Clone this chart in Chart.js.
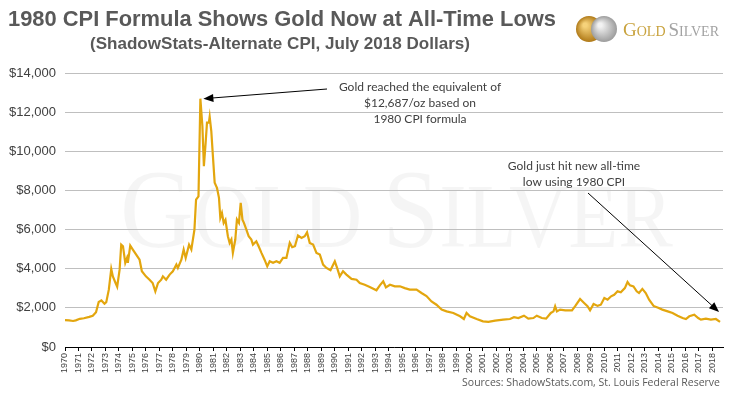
<!DOCTYPE html>
<html>
<head>
<meta charset="utf-8">
<style>
  html, body { margin: 0; padding: 0; background: #fff; }
  #wrap { width: 737px; height: 396px; }
</style>
</head>
<body>
<div id="wrap"><canvas id="cpiChart" width="737" height="396"></canvas></div>
<script src="https://cdn.jsdelivr.net/npm/chart.js"></script>
<script>
  // gold price in July 2018 dollars, ShadowStats 1980-CPI basis
  const years = [
    1970.0, 1970.3, 1970.6, 1970.8, 1971.1, 1971.4, 1971.8, 1972.06, 1972.3, 1972.5,
    1972.7, 1972.93, 1973.06, 1973.25, 1973.43, 1973.55, 1973.75, 1973.87, 1974.05, 1974.17,
    1974.3, 1974.47, 1974.6, 1974.66, 1974.84, 1975.03, 1975.28, 1975.53, 1975.7, 1976.0,
    1976.27, 1976.5, 1976.7, 1976.9, 1977.14, 1977.26, 1977.5, 1977.76, 1978.0, 1978.26,
    1978.37, 1978.63, 1978.8, 1978.95, 1979.2, 1979.37, 1979.6, 1979.72, 1979.9, 1980.04,
    1980.19, 1980.3, 1980.43, 1980.53, 1980.67, 1980.73, 1980.85, 1980.97, 1981.1, 1981.27,
    1981.42, 1981.52, 1981.64, 1981.77, 1981.9, 1982.08, 1982.21, 1982.34, 1982.45, 1982.63,
    1982.75, 1982.9, 1983.03, 1983.16, 1983.27, 1983.45, 1983.62, 1983.82, 1983.94, 1984.19,
    1984.36, 1984.57, 1984.8, 1985.0, 1985.18, 1985.43, 1985.68, 1985.92, 1986.17, 1986.42,
    1986.67, 1986.85, 1987.05, 1987.28, 1987.54, 1987.78, 1987.95, 1988.15, 1988.4, 1988.65,
    1988.9, 1989.14, 1989.39, 1989.69, 1990.01, 1990.18, 1990.38, 1990.62, 1990.87, 1991.25,
    1991.62, 1991.86, 1992.23, 1992.6, 1993.1, 1993.35, 1993.6, 1993.8, 1994.1, 1994.46,
    1994.84, 1995.2, 1995.57, 1996.07, 1996.44, 1996.81, 1997.18, 1997.55, 1997.93, 1998.3,
    1998.8, 1999.3, 1999.58, 1999.78, 2000.03, 2000.53, 2001.0, 2001.4, 2001.9, 2002.5,
    2003.0, 2003.3, 2003.62, 2004.04, 2004.36, 2004.74, 2004.99, 2005.36, 2005.68, 2006.03,
    2006.23, 2006.35, 2006.48, 2006.72, 2007.1, 2007.6, 2007.85, 2008.2, 2008.5, 2008.75,
    2008.94, 2009.2, 2009.5, 2009.74, 2010.0, 2010.24, 2010.5, 2010.73, 2010.98, 2011.22,
    2011.52, 2011.72, 2011.9, 2012.16, 2012.4, 2012.57, 2012.82, 2013.07, 2013.32, 2013.65,
    2013.99, 2014.3, 2014.7, 2015.06, 2015.43, 2015.8, 2016.05, 2016.3, 2016.67, 2016.96,
    2017.16, 2017.53, 2017.9, 2018.27, 2018.58
  ];
  const prices = [
    1370, 1360, 1330, 1360, 1440, 1470, 1540, 1600, 1780, 2300,
    2380, 2210, 2290, 2930, 3990, 3600, 3270, 3080, 3950, 5230,
    5150, 4300, 4550, 4300, 5180, 4980, 4720, 4460, 3870, 3610,
    3440, 3270, 2840, 3270, 3440, 3610, 3440, 3700, 3870, 4210,
    4040, 4460, 4980, 4550, 5230, 4980, 6000, 7530, 7700, 12687,
    11280, 9240, 10430, 11460, 11460, 11760, 11030, 9750, 8390, 8130,
    7620, 6600, 6850, 6340, 6500, 5660, 5320, 5490, 4810, 5490,
    6510, 6340, 7365, 6510, 6340, 6000, 5660, 5490, 5230, 5400,
    5150, 4810, 4460, 4120, 4380, 4300, 4380, 4300, 4550, 4550,
    5320, 5100, 5150, 5700, 5570, 5660, 5860, 5320, 5230, 4810,
    4720, 4210, 4040, 3920, 4380, 4040, 3610, 3870, 3700, 3480,
    3440, 3270, 3180, 3070, 2900, 3150, 3360, 3050, 3180, 3100,
    3100, 3010, 2930, 2930, 2760, 2600, 2330, 2160, 1910, 1820,
    1740, 1570, 1430, 1740, 1570, 1430, 1310, 1280, 1350, 1400,
    1430, 1520, 1480, 1600, 1450, 1480, 1600, 1480, 1450, 1740,
    1820, 2080, 1820, 1910, 1870, 1870, 2100, 2450, 2250, 2080,
    1870, 2200, 2100, 2160, 2500, 2420, 2590, 2670, 2845, 2800,
    3010, 3320, 3150, 3100, 2845, 2760, 2970, 2760, 2420, 2100,
    2000, 1910, 1820, 1740, 1600, 1480, 1430, 1570, 1650, 1480,
    1400, 1450, 1400, 1430, 1280
  ];
  const yMax = 14000;
  const yStep = 2000;

  const titleText = '1980 CPI Formula Shows Gold Now at All-Time Lows';
  const subtitleText = '(ShadowStats-Alternate CPI, July 2018 Dollars)';
  const peakNote = ['Gold reached the equivalent of', '$12,687/oz based on', '1980 CPI formula'];
  const lowNote = ['Gold just hit new all-time', 'low using 1980 CPI'];
  const sourceText = 'Sources: ShadowStats.com, St. Louis Federal Reserve';

  const sans = '"Liberation Sans", Arial, sans-serif';
  const noteFont = '12px Lato, "Open Sans", sans-serif';

  // draws text squeezed to a given width (the original uses a narrow face)
  function fitText(ctx, text, left, y, width, font) {
    ctx.save();
    ctx.font = font;
    ctx.textAlign = 'left';
    const w = ctx.measureText(text).width;
    ctx.translate(left, y);
    ctx.scale(width / w, 1);
    ctx.fillText(text, 0, 0);
    ctx.restore();
  }

  function arrow(ctx, x1, y1, x2, y2) {
    const a = Math.atan2(y2 - y1, x2 - x1);
    ctx.save();
    ctx.strokeStyle = '#000';
    ctx.fillStyle = '#000';
    ctx.lineWidth = 1;
    ctx.beginPath();
    ctx.moveTo(x1, y1);
    ctx.lineTo(x2 - 8 * Math.cos(a), y2 - 8 * Math.sin(a));
    ctx.stroke();
    ctx.beginPath();
    ctx.moveTo(x2, y2);
    ctx.lineTo(x2 - 10 * Math.cos(a) + 4 * Math.sin(a), y2 - 10 * Math.sin(a) - 4 * Math.cos(a));
    ctx.lineTo(x2 - 10 * Math.cos(a) - 4 * Math.sin(a), y2 - 10 * Math.sin(a) + 4 * Math.cos(a));
    ctx.closePath();
    ctx.fill();
    ctx.restore();
  }

  function smallCaps(ctx, parts, x, y, color) {
    let cx = x;
    ctx.fillStyle = color;
    parts.forEach(([t, size]) => {
      ctx.font = size + 'px "Liberation Serif", "DejaVu Serif", serif';
      ctx.fillText(t, cx, y);
      cx += ctx.measureText(t).width;
    });
    return cx;
  }

  const decor = {
    id: 'decor',
    beforeDraw(chart) {
      const ctx = chart.ctx;
      ctx.save();
      ctx.fillStyle = '#fff';
      ctx.fillRect(0, 0, chart.width, chart.height);
      // faint watermark
      ctx.textBaseline = 'alphabetic';
      ctx.textAlign = 'left';
      const parts = [['G', 112], ['OLD', 90], [' ', 90], ['S', 112], ['ILVER', 90]];
      let w = 0;
      parts.forEach(([t, s]) => { ctx.font = s + 'px "Liberation Serif", serif'; w += ctx.measureText(t).width; });
      ctx.translate(120, 247);
      ctx.scale(553 / w, 1);
      smallCaps(ctx, parts, 0, 0, 'rgba(0,0,0,0.04)');
      ctx.restore();
    },
    afterDraw(chart) {
      const ctx = chart.ctx;
      const xs = chart.scales.x, ys = chart.scales.y;
      ctx.save();
      // titles
      ctx.fillStyle = '#595959';
      ctx.textBaseline = 'alphabetic';
      fitText(ctx, titleText, 8, 26, 548, 'bold 22px ' + sans);
      fitText(ctx, subtitleText, 90, 49, 380, 'bold 17px ' + sans);

      // logo coins
      const coin = (cx, cy, r, c1, c2) => {
        const g = ctx.createRadialGradient(cx - 4, cy - 4, 2, cx, cy, r);
        g.addColorStop(0, c1);
        g.addColorStop(1, c2);
        ctx.fillStyle = g;
        ctx.beginPath();
        ctx.arc(cx, cy, r, 0, Math.PI * 2);
        ctx.fill();
      };
      coin(589, 29, 13, '#f6d27a', '#b07a18');
      coin(604, 29, 13, '#f2f2f2', '#9c9c9c');
      ctx.textAlign = 'left';
      ctx.textBaseline = 'alphabetic';
      let lx = smallCaps(ctx, [['G', 19], ['OLD', 14]], 623, 36, '#c9a33f');
      smallCaps(ctx, [['S', 19], ['ILVER', 14]], lx + 3, 36, '#a3a3a3');

      // notes
      ctx.fillStyle = '#404040';
      ctx.font = noteFont;
      ctx.textAlign = 'center';
      ctx.textBaseline = 'middle';
      peakNote.forEach((t, i) => ctx.fillText(t, 420, 87 + i * 16));
      lowNote.forEach((t, i) => ctx.fillText(t, 574, 166 + i * 16));

      const iPeak = prices.indexOf(Math.max(...prices));
      arrow(ctx, 327, 89, xs.getPixelForValue(years[iPeak]) + 3, ys.getPixelForValue(prices[iPeak]));
      const iLast = years.length - 1;
      arrow(ctx, 588, 193, xs.getPixelForValue(years[iLast]) - 1, ys.getPixelForValue(prices[iLast]) - 10);

      // source line
      ctx.font = '10.5px "Open Sans", sans-serif';
      ctx.fillStyle = '#595959';
      ctx.textAlign = 'right';
      ctx.fillText(sourceText, 720, 383);
      ctx.restore();
    }
  };

  const ctx = document.getElementById('cpiChart').getContext('2d');
  const cpiChart = new Chart(ctx, {
    type: 'line',
    data: {
      datasets: [{
        data: years.map((y, i) => ({ x: y, y: prices[i] })),
        borderColor: '#e3a60e',
        borderWidth: 2.2,
        pointRadius: 0,
        tension: 0,
        fill: false
      }]
    },
    options: {
      responsive: false,
      animation: false,
      layout: { padding: { top: 73, right: 14, left: 0, bottom: 0 } },
      plugins: {
        legend: { display: false },
        tooltip: { enabled: false }
      },
      scales: {
        x: {
          type: 'linear',
          min: 1970,
          max: 2018.8,
          afterBuildTicks: (s) => { s.ticks = s.ticks.filter(t => Number.isInteger(t.value)); },
          afterFit: (s) => { s.height = 49; },
          ticks: {
            stepSize: 1,
            autoSkip: false,
            minRotation: 90,
            maxRotation: 90,
            padding: 2,
            color: '#404040',
            font: { family: sans, size: 9 },
            callback: (v) => String(v)
          },
          grid: { drawOnChartArea: false, drawTicks: true, tickLength: 4, color: '#000' },
          border: { display: true, color: '#000', width: 1 }
        },
        y: {
          min: 0,
          max: yMax,
          afterFit: (s) => { s.width = 65; },
          ticks: {
            stepSize: yStep,
            padding: 9,
            color: '#404040',
            font: { family: sans, size: 13 },
            callback: (v) => '$' + v.toLocaleString('en-US')
          },
          grid: { color: '#bfbfbf', drawTicks: false },
          border: { display: false }
        }
      }
    },
    plugins: [decor]
  });
</script>
</body>
</html>
